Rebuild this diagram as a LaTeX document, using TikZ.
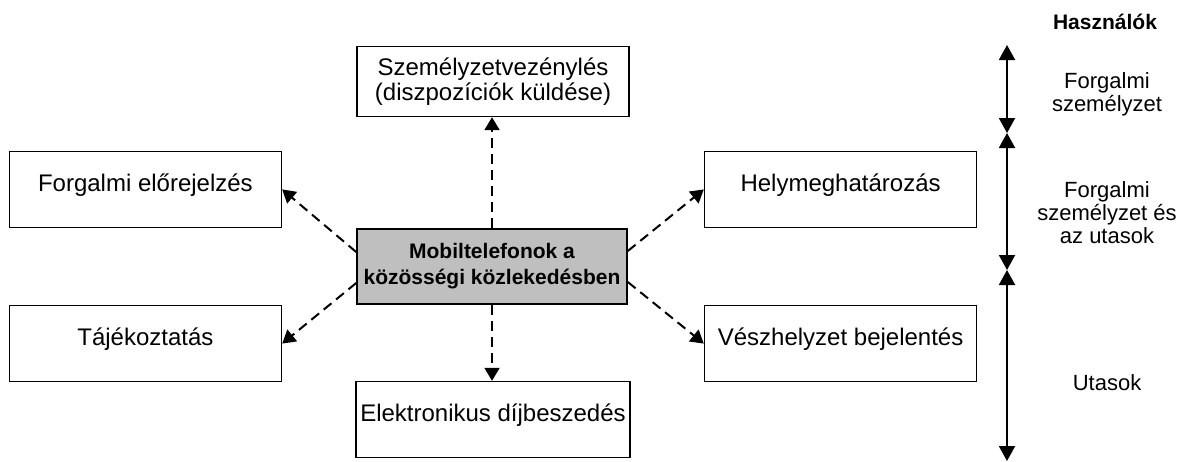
\documentclass[tikz,border=0pt]{standalone}
\usepackage{fontspec}
\setmainfont{Liberation Sans}
\usepackage{tikz}
\usetikzlibrary{arrows.meta,positioning}
\tikzset{
    doboz/.style={
        rectangle,
        draw,
        line width=0.8pt,
        align=center,
        minimum width=136pt,
        minimum height=38pt,
        inner sep=2pt,
        font=\fontsize{12}{12.5}\selectfont
    },
    egysor/.style={doboz, text height=9pt, text depth=7pt},
    kozep/.style={doboz, fill=black!25, minimum width=135pt, minimum height=37.5pt,
        font=\fontsize{10.5}{13}\selectfont\bfseries},
    nyil/.style={-{Triangle[length=6.5pt,width=7.5pt]}, line width=1pt,
        dash pattern=on 5pt off 3pt},
    skala/.style={{Triangle[length=7.5pt,width=8pt]}-{Triangle[length=7.5pt,width=8pt]},
        line width=1pt},
    felirat/.style={align=center, font=\fontsize{11}{11.5}\selectfont}
}

\begin{document}
\begin{tikzpicture}[x=0.5pt, y=-0.5pt]
    \useasboundingbox (0,0) rectangle (1186,461);
    % kozponti doboz
    \node[kozep] (mobil) at (492,266.5)
        {Mobiltelefonok a\\közösségi közlekedésben};
    \node[doboz, minimum height=35pt, font=\fontsize{12}{10.5}\selectfont,
        above=55.5pt of mobil, xshift=0.5pt] (szemely)
        {Személyzetvezénylés\\(diszpozíciók küldése)};
    \node[egysor, above left=0pt and 37pt of mobil] (elore)
        {Forgalmi előrejelzés};
    \node[egysor, below left=0pt and 37pt of mobil] (tajek)
        {Tájékoztatás};
    \node[egysor, above right=0pt and 38pt of mobil] (hely)
        {Helymeghatározás};
    \node[egysor, below right=0pt and 38pt of mobil] (vesz)
        {Vészhelyzet bejelentés};
    \node[egysor, below=38pt of mobil, xshift=0.5pt] (dij)
        {Elektronikus díjbeszedés};
    \draw[nyil] (mobil.north) -- (mobil.north |- szemely.south);
    \draw[nyil] (mobil.south) -- (mobil.south |- dij.north);
    \draw[nyil] ([yshift=7.25pt]mobil.west) -- (elore.east);
    \draw[nyil] ([yshift=-8.25pt]mobil.west) -- (tajek.east);
    \draw[nyil] ([yshift=7.75pt]mobil.east) -- (hely.east -| hely.west);
    \draw[nyil] ([yshift=-7.75pt]mobil.east) -- (vesz.west);
    % felhasznalok skalaja
    \node[font=\fontsize{10.5}{12}\selectfont\bfseries] (hasz) at (1105,22) {Használók};
    \coordinate (s0) at (1007,45);
    \coordinate (s1) at (1007,133);
    \coordinate (s2) at (1007,270);
    \coordinate (s3) at (1007,461);
    \draw[skala] (s0) -- (s1);
    \draw[skala] (s1) -- (s2);
    \draw[skala] (s2) -- (s3);
    \node[felirat] (szem) at (1107,94) {Forgalmi\\személyzet};
    \node[felirat] (vegyes) at (1107,213) {Forgalmi\\személyzet és\\az utasok};
    \node[felirat] (utas) at (1107,383) {Utasok};
\end{tikzpicture}
\end{document}
